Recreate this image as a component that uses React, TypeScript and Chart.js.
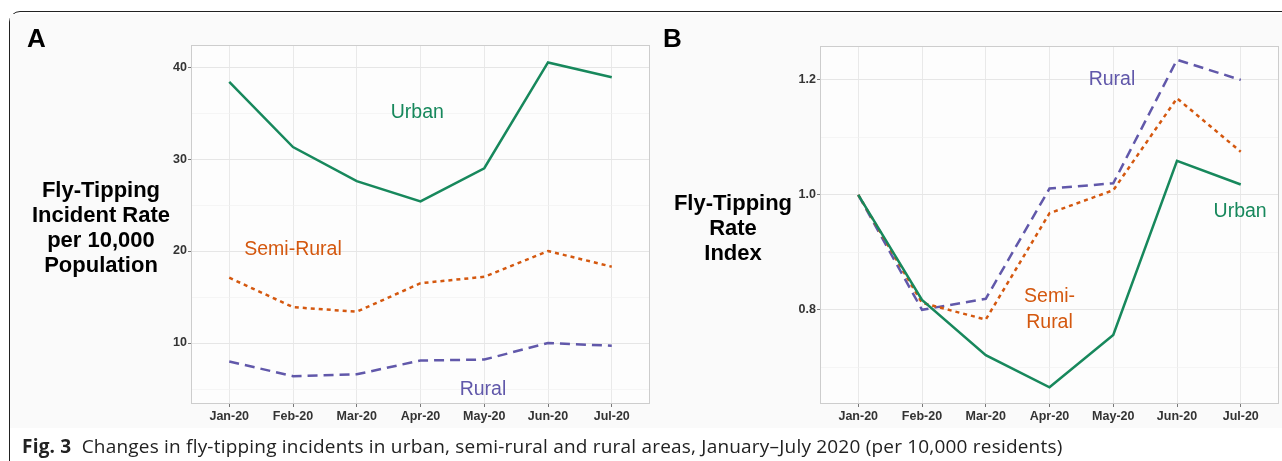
import React, { useEffect, useRef } from "react";
import { Chart, registerables } from "chart.js";

Chart.register(...registerables);

// ---- data ----
const months = ["Jan-20", "Feb-20", "Mar-20", "Apr-20", "May-20", "Jun-20", "Jul-20"];

const urbanRate = [38.4, 31.3, 27.6, 25.4, 29.0, 40.5, 38.9];
const semiRuralRate = [17.1, 13.9, 13.4, 16.5, 17.2, 20.0, 18.3];
const ruralRate = [8.0, 6.4, 6.6, 8.1, 8.2, 10.0, 9.7];

const urbanIndex = [1.0, 0.817, 0.721, 0.665, 0.756, 1.059, 1.018];
const semiRuralIndex = [1.0, 0.812, 0.783, 0.968, 1.008, 1.168, 1.075];
const ruralIndex = [1.0, 0.8, 0.819, 1.011, 1.02, 1.235, 1.2];

const rateTicks = [10, 20, 30, 40];
const rateMinorTicks = [5, 15, 25, 35];
const indexTicks = [0.8, 1.0, 1.2];
const indexMinorTicks = [0.7, 0.9, 1.1];

// ---- styles ----
const GREEN = "#17885c";
const ORANGE = "#d4580f";
const PURPLE = "#6158aa";
const FONT = '"Liberation Sans", Arial, Helvetica, sans-serif';

type Note = { text: string[]; x: number; y: number; color: string };

function decorPlugin(notes: Note[]) {
  return {
    id: "panelDecor",
    beforeDraw(chart: any) {
      const { ctx, chartArea: a } = chart;
      ctx.save();
      ctx.fillStyle = "#fdfdfd";
      ctx.fillRect(a.left, a.top, a.right - a.left, a.bottom - a.top);
      ctx.restore();
    },
    afterDraw(chart: any) {
      const { ctx, chartArea: a, scales } = chart;
      ctx.save();
      ctx.strokeStyle = "#cdcdcd";
      ctx.lineWidth = 1;
      ctx.strokeRect(a.left + 0.5, a.top + 0.5, a.right - a.left - 1, a.bottom - a.top - 1);
      ctx.font = `19.5px ${FONT}`;
      ctx.textAlign = "center";
      ctx.textBaseline = "middle";
      notes.forEach((n) => {
        const px = scales.x.getPixelForValue(n.x);
        const py = scales.y.getPixelForValue(n.y);
        const lh = 26;
        const y0 = py - ((n.text.length - 1) * lh) / 2;
        ctx.fillStyle = n.color;
        n.text.forEach((t, i) => ctx.fillText(t, px, y0 + i * lh));
      });
      ctx.restore();
    },
  };
}

function series(values: number[]) {
  return values.map((y, i) => ({ x: i, y }));
}

function makeConfig(opts: {
  urban: number[];
  semi: number[];
  rural: number[];
  min: number;
  max: number;
  major: number[];
  minor: number[];
  fmt: (v: number) => string;
  yWidth: number;
  padRight: number;
  padTop: number;
  notes: Note[];
}) {
  const tickFont = { family: FONT, size: 12.5, weight: "bold" as const };
  const isMajor = (v: number) => opts.major.some((m) => Math.abs(m - v) < 1e-9);
  return {
    type: "line" as const,
    data: {
      datasets: [
        {
          label: "Urban",
          data: series(opts.urban),
          borderColor: GREEN,
          borderWidth: 2.5,
          pointRadius: 0,
          tension: 0,
        },
        {
          label: "Semi-Rural",
          data: series(opts.semi),
          borderColor: ORANGE,
          borderWidth: 2.5,
          borderDash: [4, 4],
          pointRadius: 0,
          tension: 0,
        },
        {
          label: "Rural",
          data: series(opts.rural),
          borderColor: PURPLE,
          borderWidth: 2.5,
          borderDash: [10, 6],
          pointRadius: 0,
          tension: 0,
        },
      ],
    },
    options: {
      responsive: false,
      animation: false,
      devicePixelRatio: 1,
      layout: { padding: { left: 0, right: opts.padRight, top: opts.padTop, bottom: 0 } },
      plugins: { legend: { display: false }, tooltip: { enabled: false } },
      scales: {
        x: {
          type: "linear",
          min: -0.6,
          max: months.length - 1 + 0.6,
          afterBuildTicks: (s: any) => {
            s.ticks = months.map((_, i) => ({ value: i }));
          },
          afterFit: (s: any) => {
            s.height = 36;
          },
          ticks: {
            callback: (v: any) => months[v] ?? "",
            autoSkip: false,
            maxRotation: 0,
            minRotation: 0,
            padding: 2,
            font: tickFont,
            color: "#333",
          },
          grid: { color: "#e9e9e9", lineWidth: 1, tickLength: 3, tickColor: "#777" },
          border: { display: false },
        },
        y: {
          type: "linear",
          min: opts.min,
          max: opts.max,
          afterBuildTicks: (s: any) => {
            s.ticks = [...opts.minor, ...opts.major].sort((a, b) => a - b).map((v) => ({ value: v }));
          },
          afterFit: (s: any) => {
            s.width = opts.yWidth;
          },
          ticks: {
            callback: (v: any) => (isMajor(v) ? opts.fmt(v) : ""),
            padding: 1,
            font: tickFont,
            color: "#333",
          },
          grid: {
            color: (c: any) => (c.tick && isMajor(c.tick.value) ? "#e6e6e6" : "#f1f1f1"),
            lineWidth: (c: any) => (c.tick && isMajor(c.tick.value) ? 1 : 0.7),
            tickLength: 3,
            tickColor: (c: any) => (c.tick && isMajor(c.tick.value) ? "#777" : "rgba(0,0,0,0)"),
          },
          border: { display: false },
        },
      },
    },
    plugins: [decorPlugin(opts.notes)],
  };
}

function LineCanvas({ config, left, top, width, height }: any) {
  const ref = useRef<HTMLCanvasElement>(null);
  useEffect(() => {
    const chart = new Chart(ref.current as HTMLCanvasElement, config as any);
    return () => chart.destroy();
  }, []);
  return (
    <canvas
      ref={ref}
      width={width}
      height={height}
      style={{ position: "absolute", left, top, width, height }}
    />
  );
}

const configA = makeConfig({
  urban: urbanRate,
  semi: semiRuralRate,
  rural: ruralRate,
  min: 3.37,
  max: 42.4,
  major: rateTicks,
  minor: rateMinorTicks,
  fmt: (v) => String(v),
  yWidth: 191,
  padRight: 10,
  padTop: 45,
  notes: [
    { text: ["Urban"], x: 2.95, y: 35.0, color: GREEN },
    { text: ["Semi-Rural"], x: 1.0, y: 20.1, color: ORANGE },
    { text: ["Rural"], x: 3.98, y: 4.9, color: PURPLE },
  ],
});

const configB = makeConfig({
  urban: urbanIndex,
  semi: semiRuralIndex,
  rural: ruralIndex,
  min: 0.636,
  max: 1.259,
  major: indexTicks,
  minor: indexMinorTicks,
  fmt: (v) => v.toFixed(1),
  yWidth: 160,
  padRight: 3,
  padTop: 46,
  notes: [
    { text: ["Rural"], x: 3.98, y: 1.2, color: PURPLE },
    { text: ["Urban"], x: 5.99, y: 0.97, color: GREEN },
    { text: ["Semi-", "Rural"], x: 3.0, y: 0.8, color: ORANGE },
  ],
});

const titleStyle: React.CSSProperties = {
  position: "absolute",
  fontFamily: FONT,
  fontWeight: "bold",
  fontSize: 22,
  lineHeight: "25px",
  textAlign: "center",
  color: "#000",
  whiteSpace: "nowrap",
};

const letterStyle: React.CSSProperties = {
  position: "absolute",
  fontFamily: FONT,
  fontWeight: "bold",
  fontSize: 26,
  lineHeight: "26px",
  color: "#000",
};

export default function App() {
  return (
    <div
      style={{
        position: "fixed",
        left: 0,
        top: 0,
        width: 1282,
        height: 461,
        background: "#fff",
        overflow: "hidden",
      }}
    >
      <div
        style={{
          position: "absolute",
          left: 9,
          top: 11,
          width: 1400,
          height: 600,
          border: "1px solid #222",
          borderTopLeftRadius: 11,
          boxSizing: "border-box",
        }}
      />
      <div style={{ position: "absolute", left: 10, top: 14, width: 1272, height: 414, background: "#fafafa" }} />
      <LineCanvas config={configA} left={0} top={0} width={660} height={440} />
      <LineCanvas config={configB} left={660} top={0} width={622} height={440} />
      <div style={{ ...letterStyle, left: 27, top: 25 }}>A</div>
      <div style={{ ...letterStyle, left: 663, top: 25 }}>B</div>
      <div style={{ ...titleStyle, left: 1, top: 177, width: 200 }}>
        Fly-Tipping
        <br />
        Incident Rate
        <br />
        per 10,000
        <br />
        Population
      </div>
      <div style={{ ...titleStyle, left: 633, top: 190, width: 200 }}>
        Fly-Tipping
        <br />
        Rate
        <br />
        Index
      </div>
      <div
        style={{
          position: "absolute",
          left: 22,
          top: 434,
          fontFamily: '"Open Sans", "Noto Sans", sans-serif',
          fontSize: 19,
          letterSpacing: "0.2px",
          lineHeight: "24px",
          color: "#222",
          whiteSpace: "nowrap",
        }}
      >
        <b>Fig. 3</b>&nbsp;&nbsp;Changes in fly-tipping incidents in urban, semi-rural and rural areas, January–July 2020
        (per 10,000 residents)
      </div>
    </div>
  );
}
